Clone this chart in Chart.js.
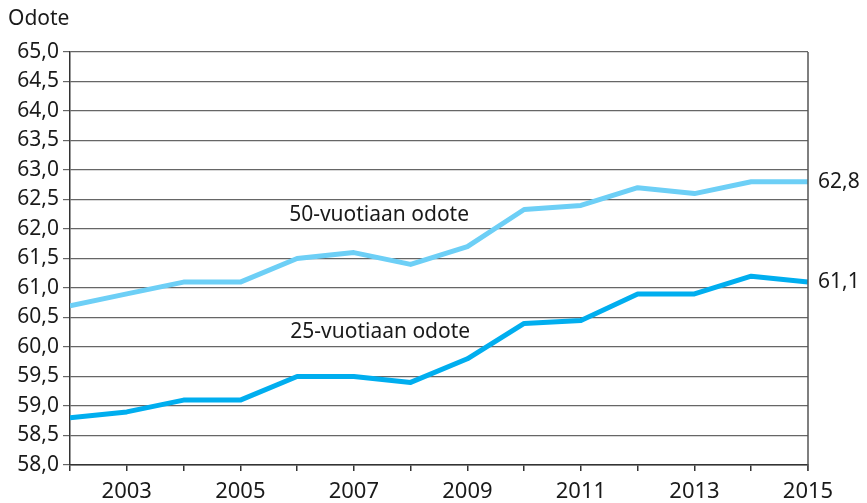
<!DOCTYPE html>
<html>
<head>
<meta charset="utf-8">
<script src="https://cdn.jsdelivr.net/npm/chart.js@4/dist/chart.umd.min.js"></script>
<style>
  html, body { margin: 0; padding: 0; background: #fff; }
  #wrap { width: 867px; height: 503px; }
</style>
</head>
<body>
<div id="wrap"><canvas id="c" width="867" height="503"></canvas></div>
<script>
// Elinajanodote, vuodet 2002-2015
var years = [2002, 2003, 2004, 2005, 2006, 2007, 2008, 2009, 2010, 2011, 2012, 2013, 2014, 2015];
var odote50 = [60.7, 60.9, 61.1, 61.1, 61.5, 61.6, 61.4, 61.7, 62.33, 62.4, 62.7, 62.6, 62.8, 62.8];
var odote25 = [58.8, 58.9, 59.1, 59.1, 59.5, 59.5, 59.4, 59.8, 60.4, 60.45, 60.9, 60.9, 61.2, 61.1];
var seriesLabels = ['50-vuotiaan odote', '25-vuotiaan odote'];
var yTitle = 'Odote';

var FONT = '"Noto Sans", "Open Sans", sans-serif';
var COL50 = '#6dcff6', COL25 = '#00aeef';

function fmt(v) {
    return v.toFixed(1).replace('.', ',');
}

function pts(vals) {
    return years.map(function (y, i) { return { x: y, y: vals[i] }; });
}

// texts drawn on top: series names, end values, axis title, right border
var textPlugin = {
    id: 'texts',
    afterDraw: function (chart) {
        var ctx = chart.ctx, xs = chart.scales.x, ys = chart.scales.y, a = chart.chartArea;
        ctx.save();
        // right border of the plot
        ctx.strokeStyle = '#555';
        ctx.lineWidth = 1.5;
        ctx.beginPath();
        ctx.moveTo(a.right, a.top);
        ctx.lineTo(a.right, a.bottom + 6);
        ctx.stroke();

        ctx.fillStyle = '#1a1a1a';
        ctx.font = '21px ' + FONT;
        ctx.textBaseline = 'middle';
        ctx.textAlign = 'left';
        ctx.fillText(yTitle, 8, 19);
        ctx.fillText(seriesLabels[0], xs.getPixelForValue(2005.86), ys.getPixelForValue(62.23));
        ctx.fillText(seriesLabels[1], xs.getPixelForValue(2005.88), ys.getPixelForValue(60.25));
        var last = years.length - 1;
        ctx.fillText(fmt(odote50[last]), a.right + 10, ys.getPixelForValue(odote50[last]));
        ctx.fillText(fmt(odote25[last]), a.right + 10, ys.getPixelForValue(odote25[last]));
        ctx.restore();
    }
};

new Chart(document.getElementById('c'), {
    type: 'line',
    data: {
        datasets: [
            { label: seriesLabels[0], data: pts(odote50), borderColor: COL50, borderWidth: 5,
              pointRadius: 0, tension: 0, borderJoinStyle: 'round' },
            { label: seriesLabels[1], data: pts(odote25), borderColor: COL25, borderWidth: 5,
              pointRadius: 0, tension: 0, borderJoinStyle: 'round' }
        ]
    },
    options: {
        responsive: false,
        animation: false,
        layout: { padding: { left: 0, right: 59, top: 52, bottom: 0 } },
        plugins: { legend: { display: false }, tooltip: { enabled: false } },
        scales: {
            x: {
                type: 'linear',
                min: 2002,
                max: 2015,
                afterFit: function (s) { s.height = 38; },
                ticks: {
                    stepSize: 1,
                    autoSkip: false,
                    maxRotation: 0,
                    padding: 8,
                    color: '#1a1a1a',
                    font: { family: FONT, size: 22 },
                    callback: function (v) { return v % 2 === 1 ? String(v) : ''; }
                },
                grid: { drawOnChartArea: false, color: '#333', tickLength: 6, lineWidth: 1.5 },
                border: { color: '#333', width: 1.5 }
            },
            y: {
                min: 58,
                max: 65,
                afterFit: function (s) { s.width = 70; },
                ticks: {
                    stepSize: 0.5,
                    padding: 4,
                    color: '#1a1a1a',
                    font: { family: FONT, size: 21 },
                    callback: function (v) { return fmt(v); }
                },
                grid: { color: '#666', tickLength: 7, lineWidth: 1.2 },
                border: { color: '#333', width: 1.5 }
            }
        }
    },
    plugins: [textPlugin]
});
</script>
</body>
</html>
